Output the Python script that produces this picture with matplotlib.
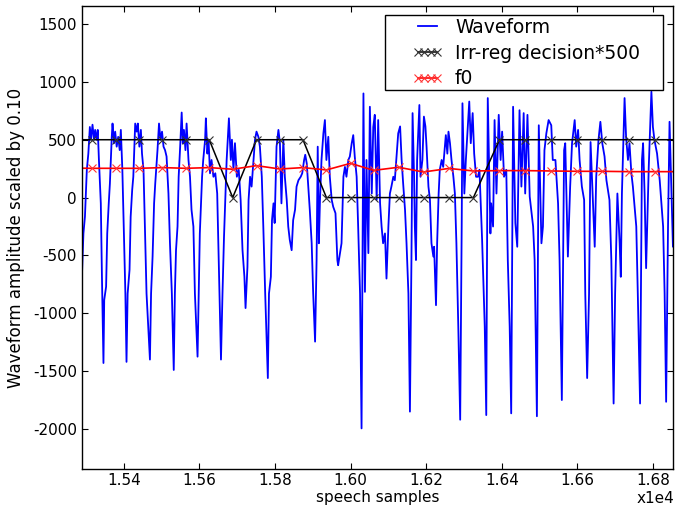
"""
Waveform with irregular-phonation decision and f0 track,
drawn in the old matplotlib look (ticks inside, x1e4 offset).
"""

import matplotlib
matplotlib.use('Agg')
import matplotlib.pyplot as plt
from matplotlib.ticker import FuncFormatter
from matplotlib.patches import Rectangle

# ── waveform (samples, amplitude scaled by 0.10) ─────────────────────────
wave_x = [
    15284, 15288, 15293, 15297, 15302, 15306, 15310, 15313, 15317, 15321,
    15324, 15328, 15331, 15334, 15339, 15342, 15346, 15348, 15353, 15356,
    15360, 15363, 15368, 15370, 15374, 15377, 15381, 15385, 15389, 15392,
    15396, 15400, 15404, 15407, 15410, 15415, 15418, 15422, 15425, 15430,
    15434, 15437, 15441, 15445, 15448, 15452, 15457, 15460, 15469, 15472,
    15476, 15480, 15483, 15489, 15493, 15497, 15501, 15505, 15509, 15513,
    15518, 15522, 15527, 15532, 15535, 15538, 15542, 15545, 15549, 15553,
    15556, 15559, 15563, 15566, 15571, 15575, 15579, 15584, 15588, 15595,
    15598, 15601, 15607, 15610, 15615, 15617, 15621, 15624, 15628, 15632,
    15637, 15642, 15647, 15653, 15657, 15661, 15665, 15669, 15672, 15678,
    15683, 15686, 15690, 15694, 15699, 15704, 15709, 15714, 15719, 15722,
    15727, 15730, 15734, 15738, 15743, 15747, 15751, 15756, 15760, 15765,
    15769, 15774, 15781, 15784, 15789, 15792, 15796, 15799, 15804, 15809,
    15813, 15817, 15822, 15826, 15831, 15835, 15839, 15844, 15848, 15853,
    15857, 15862, 15868, 15872, 15877, 15880, 15884, 15888, 15892, 15897,
    15901, 15906, 15910, 15913, 15916, 15919, 15923, 15928, 15932, 15936,
    15941, 15945, 15950, 15954, 15960, 15965, 15967, 15972, 15976, 15981,
    15985, 15989, 15994, 15998, 16003, 16007, 16011, 16016, 16020, 16025,
    16029, 16034, 16038, 16042, 16047, 16051, 16056, 16060, 16064, 16069,
    16073, 16078, 16082, 16086, 16091, 16095, 16100, 16104, 16108, 16113,
    16117, 16122, 16126, 16131, 16135, 16139, 16144, 16148, 16153, 16157,
    16161, 16164, 16168, 16170, 16173, 16176, 16182, 16185, 16190, 16194,
    16198, 16201, 16206, 16210, 16214, 16219, 16221, 16226, 16229, 16233,
    16236, 16241, 16245, 16250, 16252, 16256, 16259, 16263, 16267, 16272,
    16276, 16280, 16285, 16290, 16294, 16296, 16301, 16305, 16310, 16314,
    16318, 16323, 16327, 16332, 16337, 16341, 16348, 16355, 16359, 16363,
    16370, 16372, 16377, 16381, 16386, 16392, 16397, 16401, 16406, 16412,
    16416, 16421, 16425, 16430, 16436, 16441, 16447, 16452, 16458, 16462,
    16468, 16474, 16483, 16487, 16493, 16498, 16505, 16509, 16513, 16518,
    16524, 16531, 16535, 16542, 16549, 16553, 16559, 16565, 16568, 16575,
    16581, 16586, 16593, 16597, 16602, 16606, 16612, 16618, 16621, 16626,
    16631, 16635, 16641, 16646, 16650, 16656, 16661, 16666, 16672, 16677,
    16685, 16690, 16696, 16700, 16706, 16712, 16715, 16718, 16725, 16729,
    16734, 16738, 16743, 16747, 16756, 16760, 16766, 16771, 16774, 16778,
    16782, 16789, 16796, 16800, 16804, 16811, 16818, 16827, 16831, 16835,
    16840, 16844, 16849, 16853, 16857,
]
wave_y = [
    -970, -770, -310, -165, 240, 380, 610, 500, 630, 500,
    585, 500, 585, 325, -50, -685, -1430, -885, -770, -310,
    -50, 120, 525, 640, 470, 570, 440, 525, 410, 585,
    240, -310, -830, -1420, -830, -625, -165, 65, 180, 640,
    570, 640, 440, 585, 380, 240, -425, -830, -1400, -830,
    -510, -50, 120, 410, 640, 500, 570, 440, 410, 355,
    35, -395, -830, -1490, -830, -455, -250, 180, 440, 735,
    470, 585, 410, 640, 325, 180, -105, -250, -830, -1375,
    -830, -310, 180, 325, 500, 685, 380, 500, 210, 325,
    180, 210, 35, -830, -1400, -830, -340, 35, 325, 685,
    325, 500, 240, 470, 180, 240, -20, -455, -685, -955,
    -600, -20, 180, 95, 325, 500, 570, 525, 440, 180,
    -250, -830, -1560, -830, -685, -195, -50, -220, 440, 585,
    470, -50, 500, 180, -20, -250, -365, -455, -195, -105,
    95, 150, 180, 210, 325, 370, 295, 95, -105, -395,
    -830, -1245, -540, 440, -395, -20, 325, 555, 670, 325,
    525, 180, -20, -80, -135, -540, -585, -480, -395, 180,
    265, 180, 325, 355, 470, 540, 355, 180, -250, -830,
    -1995, 900, -815, 325, -480, 785, 35, 610, 715, -20,
    670, -50, -250, -395, -310, -700, -250, 35, 95, 180,
    150, 380, 555, 615, 325, 125, -105, -395, -830, -1850,
    -540, 730, 180, -250, -540, 325, 800, 180, 325, 700,
    615, 440, 95, -20, -395, -510, -425, -930, -395, 35,
    240, 325, 265, 470, 540, 380, 570, 470, 325, 180,
    35, -395, -1115, -1920, -250, 815, 35, 325, 610, 830,
    470, 730, 380, 180, 180, 240, -365, -1115, -1880, 860,
    -310, -50, -250, 670, 35, 715, 325, 570, 180, 240,
    -540, -1115, -1865, 785, -220, -425, 755, 95, 730, 35,
    715, 8, -250, -540, -1890, 625, -395, -250, 410, 555,
    670, 625, 325, 325, -50, -540, -1750, 410, 470, -510,
    95, 470, 670, 440, 585, 325, 95, -20, -830, -1560,
    -830, 480, -20, -425, 180, 500, 655, 470, 355, 150,
    -20, -540, -1780, -830, 35, -395, -685, 35, 860, 525,
    325, 470, 210, 95, -250, -830, -1780, 325, 470, 35,
    -610, 265, 915, 610, 500, 380, 150, -250, -830, -1765,
    -250, 655, 37, -425, -110,
]

# ── pitch marks: irregular-phonation decision (x500) and f0 ──────────────
gci_x = [
    15255, 15317, 15379, 15441, 15502, 15564, 15626, 15688, 15751, 15813,
    15874, 15936, 16000, 16061, 16127, 16193, 16260, 16325, 16394, 16461,
    16530, 16599, 16665, 16737, 16806, 16873,
]
irreg_y = [
    500, 500, 500, 500, 500, 500, 500, 0, 500, 500,
    500, 0, 0, 0, 0, 0, 0, 0, 500, 500,
    500, 500, 500, 500, 500, 500,
]
f0_y = [
    255, 253, 253, 253, 259, 253, 259, 245, 276, 247,
    259, 239, 296, 235, 262, 221, 252, 230, 233, 233,
    230, 227, 227, 224, 224, 224,
]

XLIM = (15289, 16853)
YLIM = (-2345, 1655)
XTICKS = [15400, 15600, 15800, 16000, 16200, 16400, 16600, 16800]
YTICKS = [-2000, -1500, -1000, -500, 0, 500, 1000, 1500]

# legend frame padding in pixels (old legends were wide on the sides)
PAD_L, PAD_R, PAD_T, PAD_B = 27, 23, 3, 1


def main():
    plt.rcParams['font.family'] = 'DejaVu Sans'
    plt.rcParams['axes.unicode_minus'] = False
    W, H = 677, 508
    fig = plt.figure(figsize=(W / 100, H / 100), dpi=100)
    ax = fig.add_axes([0.121, 0.077, 0.873, 0.911])

    ax.plot(wave_x, wave_y, color='#0000ff', lw=1.3, label='Waveform')
    ax.plot(gci_x, irreg_y, color='black', lw=1.1, marker='x', ms=6,
            mew=0.8, mec='#333333', label='Irr-reg decision*500')
    ax.plot(gci_x, f0_y, color='#ff0000', lw=1.2, marker='x', ms=6,
            mew=0.8, mec='#ff3333', label='f0')

    ax.set_xlim(*XLIM)
    ax.set_ylim(*YLIM)
    ax.set_xticks(XTICKS)
    ax.set_yticks(YTICKS)
    ax.xaxis.set_major_formatter(FuncFormatter(lambda v, p: f'{v / 1e4:.2f}'))
    ax.tick_params(direction='in', top=True, right=True, length=4,
                   width=0.8, labelsize=11)
    ax.tick_params(axis='x', pad=3)
    ax.tick_params(axis='y', pad=3.5)
    for sp in ax.spines.values():
        sp.set_linewidth(1.0)

    ax.set_xlabel('speech samples', fontsize=11, labelpad=1.5)
    ax.set_ylabel('Waveform amplitude scaled by 0.10', fontsize=12,
                  labelpad=6)
    ax.text(1.003, -0.047, 'x1e4', transform=ax.transAxes, ha='right',
            va='top', fontsize=11)

    # legend without frame, anchored by its text end / first row top
    leg = ax.legend(loc='upper right', fontsize=13.5, numpoints=4,
                    handlelength=1.65, handletextpad=0.64,
                    frameon=False, borderaxespad=0, borderpad=0,
                    labelspacing=0.36,
                    bbox_to_anchor=((663 - PAD_R) / W, 1 - (15 + PAD_T) / H),
                    bbox_transform=fig.transFigure)
    leg.set_zorder(6)

    # hand-made frame around it
    fig.canvas.draw()
    bb = leg.get_window_extent(fig.canvas.get_renderer())
    x0, y0 = bb.x0 - PAD_L, bb.y0 - PAD_B
    x1, y1 = bb.x1 + PAD_R, bb.y1 + PAD_T
    box = Rectangle((x0 / W, y0 / H), (x1 - x0) / W, (y1 - y0) / H,
                    transform=fig.transFigure, facecolor='white',
                    edgecolor='black', lw=1.0, zorder=5.5, clip_on=False)
    ax.add_patch(box)

    fig.savefig('out.png', dpi=100)
    plt.close(fig)


if __name__ == '__main__':
    main()
